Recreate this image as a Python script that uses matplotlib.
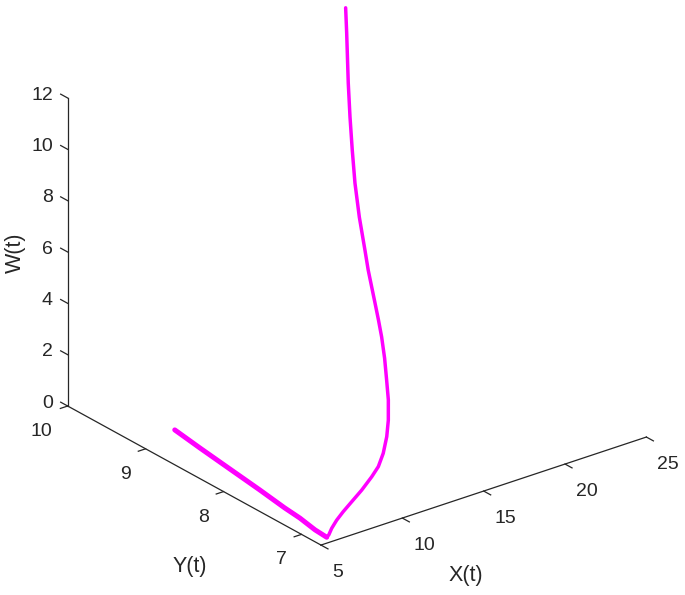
import numpy as np
import matplotlib
matplotlib.use('Agg')
import matplotlib.pyplot as plt
from mpl_toolkits.mplot3d import proj3d

# trayectoria (X, Y, W)
x_t = [6.36, 6.24, 6.14, 6.02, 5.88, 5.86, 5.69, 5.64,
       5.79, 5.97, 6.30, 6.75, 7.32, 8.03, 8.79, 9.34, 9.88, 10.48,
       10.96, 11.44, 11.91, 12.36, 12.80, 13.18, 13.59, 14.37, 14.89,
       15.74, 16.67, 17.70, 18.76, 19.85, 20.52, 21.19, 21.94]
y_t = [8.91, 8.56, 8.16, 7.75, 7.40, 7.20, 6.97, 6.81,
       6.815, 6.815, 6.82, 6.83, 6.84, 6.86, 6.89, 6.92, 6.97, 7.05,
       7.13, 7.23, 7.35, 7.47, 7.60, 7.72, 7.85, 8.10, 8.25,
       8.50, 8.75, 9.00, 9.25, 9.50, 9.65, 9.80, 9.97]
w_t = [0.60, 0.50, 0.38, 0.27, 0.18, 0.12, 0.08, 0.07,
       0.12, 0.34, 0.58, 0.80, 1.05, 1.32, 1.63, 1.86, 2.18, 2.57,
       2.98, 3.50, 3.97, 4.53, 5.05, 5.43, 5.79, 6.49, 6.90,
       7.60, 8.31, 8.97, 9.61, 10.29, 10.87, 11.46, 12.00]

x_ticks = [5, 10, 15, 20, 25]
y_ticks = [7, 8, 9, 10]
w_ticks = [0, 2, 4, 6, 8, 10, 12]
x_lim = (5, 25)
y_lim = (6.75, 10)
w_lim = (0, 12)

plt.rcParams['font.family'] = ['Liberation Sans', 'DejaVu Sans']
ink = '#262626'
fs_tick = 14
fs_lab = 15.5

fig = plt.figure(figsize=(6.85, 5.95), dpi=100)
side = 620
ax = fig.add_axes([38.65 / 685, 9.1 / 595, side / 685, side / 595], projection='3d')
ax.set_proj_type('ortho')
ax.view_init(elev=25.27, azim=-127.87)
ax.set_box_aspect((412.2, 412.6, 340.6), zoom=655.67 / side)
ax.set_xticks([])
ax.set_yticks([])
ax.set_zticks([])
ax.set_axis_off()
ax.computed_zorder = False

x0, x1 = x_lim
y0, y1 = y_lim
w0, w1 = w_lim

# ejes estilo matlab (solo tres lineas)
ax.plot([x0, x1], [y0, y0], [w0, w0], color=ink, lw=0.9, zorder=1)
ax.plot([x0, x0], [y0, y1], [w0, w0], color=ink, lw=0.9, zorder=1)
ax.plot([x0, x0], [y1, y1], [w0, w1], color=ink, lw=0.9, zorder=1)
for xv in x_ticks:
    ax.plot([xv, xv], [y0, y0 - 0.09], [w0, w0], color=ink, lw=0.9, zorder=1)
for yv in y_ticks:
    ax.plot([x0, x0 - 0.45], [yv, yv], [w0, w0], color=ink, lw=0.9, zorder=1)
for wv in w_ticks:
    ax.plot([x0, x0], [y1, y1 + 0.09], [wv, wv], color=ink, lw=0.9, zorder=1)

k = int(np.argmin(y_t))
ax.plot(x_t, y_t, w_t, color='#ff00ff', lw=2.5, zorder=3,
        solid_capstyle='round', solid_joinstyle='round')
ax.plot(x_t[:k + 1], y_t[:k + 1], w_t[:k + 1], color='#ff00ff', lw=3.6, zorder=3,
        solid_capstyle='round', solid_joinstyle='round')

ax.set_xlim(x_lim)
ax.set_ylim(y_lim)
ax.set_zlim(w_lim)

# etiquetas de los ticks: se proyecta el punto 3d y se escribe en 2d
M = ax.get_proj()


def etiqueta(x, y, z, s, ha):
    px, py, _ = proj3d.proj_transform(x, y, z, M)
    ax.text2D(px, py, s, transform=ax.transData, ha=ha, va='center',
              fontsize=fs_tick, color=ink)


for xv in x_ticks:
    etiqueta(xv, y0 - 0.14, w0 - 0.85, str(xv), 'left')
for yv in y_ticks:
    etiqueta(x0 - 0.92, yv, w0 - 0.8, str(yv), 'right')
for wv in w_ticks:
    etiqueta(x0, y1 + 0.19, wv - 0.2, str(wv), 'right')

fig.text(466 / 685, 1 - 575 / 595, 'X(t)', ha='center', va='center', fontsize=fs_lab, color=ink)
fig.text(190 / 685, 1 - 566.5 / 595, 'Y(t)', ha='center', va='center', fontsize=fs_lab, color=ink)
fig.text(15 / 685, 1 - 253 / 595, 'W(t)', ha='center', va='center', rotation=90,
         fontsize=fs_lab, color=ink)

fig.savefig('out.png', dpi=100)
